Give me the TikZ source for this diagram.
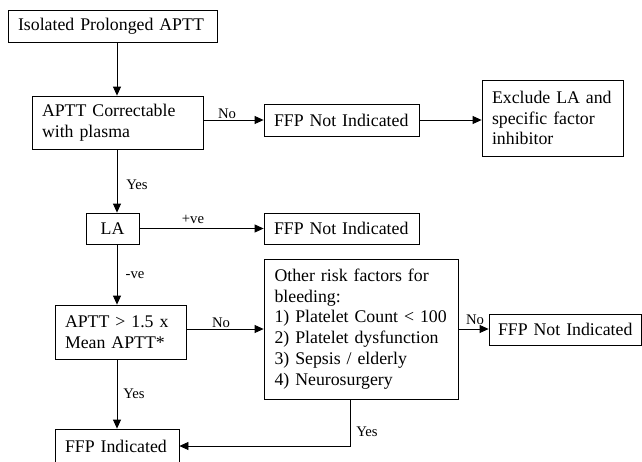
\documentclass[tikz,border=0pt]{standalone}
\usepackage{fontspec}
\setmainfont{Liberation Serif}
\usetikzlibrary{arrows.meta}
\tikzset{
  bx/.style={draw, line width=0.8pt, rectangle, inner xsep=10pt, inner ysep=0pt, align=left, font=\fontsize{17.8}{20.8}\selectfont},
  arr/.style={line width=0.8pt, -{Triangle[length=9pt,width=8pt]}},
  lbl/.style={font=\fontsize{14.7}{16}\selectfont, inner sep=0pt}
}
\begin{document}
\begin{tikzpicture}[x=1pt,y=-1pt]
\useasboundingbox (0,0) rectangle (642,461);
\clip (0,0) rectangle (642,461);
\fill[white] (0,0) rectangle (642,461);
\node[bx, text width=189pt, minimum height=32pt] (a) at (112.5,26) {Isolated Prolonged APTT};
\node[bx, text width=151pt, minimum height=53pt] (b) at (117.5,122.5) {APTT Correctable\\with plasma};
\node[bx, text width=135pt, minimum height=32pt] (c) at (341.5,120) {FFP Not Indicated};
\node[bx, text width=121pt, minimum height=76pt] (d) at (552.5,118) {Exclude LA and\\specific factor\\inhibitor};
\node[bx, text width=33pt, minimum height=31pt, align=center] (e) at (112.5,228.5) {LA};
\node[bx, text width=135pt, minimum height=31pt] (f) at (341.5,228.5) {FFP Not Indicated};
\node[bx, text width=111pt, minimum height=54pt] (g) at (120.5,332) {APTT > 1.5 x\\Mean APTT*};
\node[bx, text width=173pt, minimum height=140pt, inner xsep=10.5pt] (h) at (361,329) {Other risk factors for\\bleeding:\\1) Platelet Count < 100\\2) Platelet dysfunction\\3) Sepsis / elderly\\4) Neurosurgery};
\node[bx, text width=140pt, inner xsep=6pt, minimum height=31pt] (i) at (565,329.5) {\hspace{3pt}FFP Not Indicated};
\node[bx, text width=104pt, minimum height=34pt] (j) at (117,446) {FFP Indicated};
\coordinate (trunk) at (117,0);
\draw[arr] (trunk |- a.south) -- (trunk |- b.north);
\draw[arr] (b.east |- c.west) -- (c.west);
\draw[arr] (c.east) -- (c.east -| d.west);
\draw[arr] (trunk |- b.south) -- (trunk |- e.north);
\draw[arr] (e.east |- f.west) -- (f.west);
\draw[arr] (trunk |- e.south) -- (trunk |- g.north);
\draw[arr] (g.east |- h.west) -- (h.west);
\draw[arr] (h.east) -- (h.east -| i.west);
\draw[arr] (trunk |- g.south) -- (trunk |- j.north);
\draw[arr] ([xshift=-11pt]h.south) |- (j.east);
\node[lbl] (l1) at (227,114) {No};
\node[lbl] (l2) at (137,185) {Yes};
\node[lbl] (l3) at (193,219) {+ve};
\node[lbl] (l4) at (135,275) {-ve};
\node[lbl] (l5) at (221,323) {No};
\node[lbl] (l6) at (134,394) {Yes};
\node[lbl] (l7) at (475,320) {No};
\node[lbl] (l8) at (367,432) {Yes};
\end{tikzpicture}
\end{document}
